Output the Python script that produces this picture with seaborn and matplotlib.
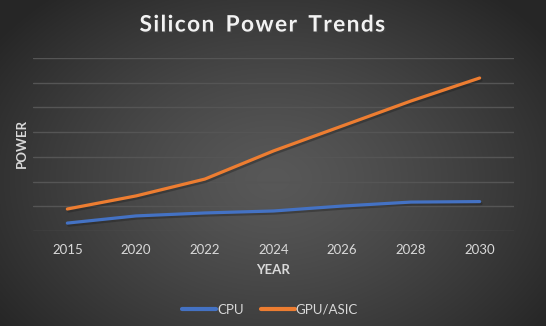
import numpy as np
import pandas as pd
import matplotlib
matplotlib.use("Agg")
import matplotlib.pyplot as plt
import matplotlib.patheffects as pe
import seaborn as sns

years = ["2015", "2020", "2022", "2024", "2026", "2028", "2030"]
cpu = [0.32, 0.61, 0.73, 0.81, 1.01, 1.17, 1.19]
gpu = [0.89, 1.42, 2.10, 3.24, 4.25, 5.26, 6.19]
series_names = ["CPU", "GPU/ASIC"]
colors = ["#4472C4", "#ED7D31"]

df = pd.DataFrame({
    "Year": years * 2,
    "Power": cpu + gpu,
    "Series": [series_names[0]] * len(years) + [series_names[1]] * len(years),
})

sns.set_theme(style="dark")
plt.rcParams["font.family"] = ["Lato", "DejaVu Sans"]

W, H = 546, 326
fig = plt.figure(figsize=(W / 100, H / 100), dpi=100)

# radial gradient background
bg = fig.add_axes([0, 0, 1, 1], zorder=-10)
yy, xx = np.mgrid[0:H, 0:W]
cx, cy = W * 0.5, H * 0.55
d = np.sqrt(((xx - cx) / (W * 0.62)) ** 2 + ((yy - cy) / (H * 0.75)) ** 2)
d = np.clip(d, 0, 1)
val = 0.345 - (0.345 - 0.15) * d ** 1.3
img = np.dstack([val, val, val])
bg.imshow(img, extent=[0, 1, 0, 1], aspect="auto", origin="upper")
bg.set_axis_off()

ax = fig.add_axes([33 / W, 1 - 231 / H, (514 - 33) / W, (231 - 58) / H])
ax.patch.set_alpha(0)

sns.lineplot(data=df, x="Year", y="Power", hue="Series", palette=colors,
             linewidth=2.3, ax=ax, legend=False, sort=False,
             path_effects=[pe.SimpleLineShadow(offset=(1, -1.5), alpha=0.35),
                           pe.Normal()])
for ln in ax.lines:
    ln.set_solid_capstyle("round")

ax.set_xlim(-0.5, len(years) - 0.5)
ax.set_ylim(0, 7)
ax.set_yticks(np.arange(0, 8, 1))
ax.set_yticklabels([])
ax.grid(axis="y", color="#555555", linewidth=1.0)
ax.grid(axis="x", visible=False)
for s in ax.spines.values():
    s.set_visible(False)
ax.tick_params(axis="both", length=0)
ax.tick_params(axis="x", colors="#d9d9d9", labelsize=9.5, pad=9)
ax.set_xlabel("")
ax.set_ylabel("")

title = fig.text(262 / W, 1 - 25 / H, "S i l i c o n  P o w e r  T r e n d s".replace("  ", "\u2002").replace(" ", "\u200a"),
                 ha="center", va="center",
                 color="#f2f2f2", fontsize=16.3, fontweight="bold",
                 path_effects=[pe.withSimplePatchShadow(offset=(1, -1), alpha=0.5)])
fig.text(273 / W, 1 - 270 / H, "YEAR", ha="center", va="center",
         color="#d9d9d9", fontsize=9.5, fontweight="bold")
fig.text(22 / W, 1 - 143 / H, "POWER", ha="center", va="center", rotation=90,
         color="#d9d9d9", fontsize=9.5, fontweight="bold")

handles = [plt.Line2D([], [], color=c, linewidth=3, solid_capstyle="round") for c in colors]
leg = fig.legend(handles, series_names, loc="center", bbox_to_anchor=(270 / W, 1 - 310 / H),
                 ncol=2, frameon=False, fontsize=9.5, labelcolor="#d9d9d9",
                 handlelength=2.6, handletextpad=0.05, columnspacing=1.3)

fig.savefig("out.png", dpi=100)
